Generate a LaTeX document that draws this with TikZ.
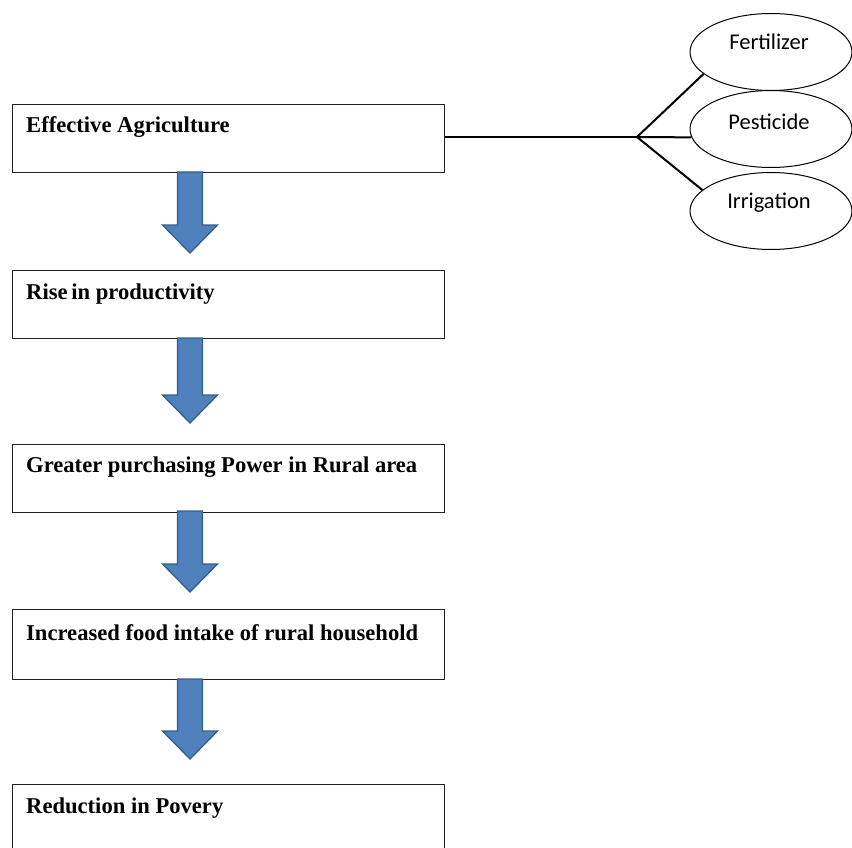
\documentclass[tikz,border=0pt]{standalone}
\usepackage{fontspec}
\setmainfont{Liberation Serif}
\newfontfamily\calfont{Carlito}
\usetikzlibrary{shapes.geometric,calc}
\definecolor{arrowblue}{HTML}{4F81BD}
\definecolor{arrowedge}{HTML}{385D8A}
\definecolor{boxedge}{HTML}{222222}
\tikzset{
  flowbox/.style={draw=boxedge, line width=1.4pt, rectangle, minimum width=432pt, minimum height=68pt, inner sep=0pt, anchor=north west},
  boxtext/.style={anchor=base west, inner sep=0pt, font=\bfseries\fontsize{22.6}{26}\selectfont},
  oval/.style={draw=black, line width=1pt, ellipse, minimum width=162pt, minimum height=77pt, inner sep=0pt},
  ovaltext/.style={anchor=base, inner sep=0pt, font=\calfont\fontsize{22.5}{26}\selectfont},
  blockarr/.style={fill=arrowblue, draw=arrowedge, line width=1.3pt, line join=miter},
  link/.style={draw=black, line width=2pt}
}
\newcommand\blockarrow[2]{%
  \path[blockarr] let \p1=(#1), \p2=(#2) in
    (\x1-12.5pt,\y1) -- (\x1+12.5pt,\y1) -- (\x1+12.5pt,\y2+28pt) -- (\x1+27.5pt,\y2+28pt)
    -- (\x2,\y2) -- (\x1-27.5pt,\y2+28pt) -- (\x1-12.5pt,\y2+28pt) -- cycle;}
\begin{document}
\begin{tikzpicture}[x=1pt,y=-1pt]
\useasboundingbox[fill=white] (0,0) rectangle (852,848);
% boxes
\node[flowbox] (b1) at (12,104) {};
\node[flowbox] (b2) at (12,270) {};
\node[flowbox] (b3) at (12,444) {};
\node[flowbox, minimum height=70pt] (b4) at (12,609) {};
\node[flowbox] (b5) at (12,784) {};
% texts
\node[boxtext] (t1) at (26,133) {Effective Agriculture};
\node[boxtext] (t2) at (26,299) {Rise\,in productivity};
\node[boxtext] (t3) at (26,472) {Greater purchasing Power in Rural area};
\node[boxtext] (t4) at (26,640) {Increased food intake of rural household};
\node[boxtext] (t5) at (26,813) {Reduction in Povery};
% block arrows
\coordinate (a1s) at (190,172); \coordinate (a1e) at (190,253);
\coordinate (a2s) at (190,338); \coordinate (a2e) at (190,423);
\coordinate (a3s) at (190,511); \coordinate (a3e) at (190,592);
\coordinate (a4s) at (190,679); \coordinate (a4e) at (190,759);
\blockarrow{a1s}{a1e}
\blockarrow{a2s}{a2e}
\blockarrow{a3s}{a3e}
\blockarrow{a4s}{a4e}
% ellipses
\node[oval] (fert) at (771,52) {};
\node[oval] (pest) at (771,129) {};
\node[oval] (irr) at (771,211) {};
\node[ovaltext] (ft) at (769,50) {Fertilizer};
\node[ovaltext] (pt) at (769,130) {Pesticide};
\node[ovaltext] (it) at (769,208) {Irrigation};
% connectors
\coordinate (j) at (637,137);
\draw[link] (b1.east |- j) -- (j);
\draw[link] (j) -- (fert.198);
\draw[link] (j) -- (pest.186);
\draw[link] (j) -- (irr.163);
\end{tikzpicture}
\end{document}
